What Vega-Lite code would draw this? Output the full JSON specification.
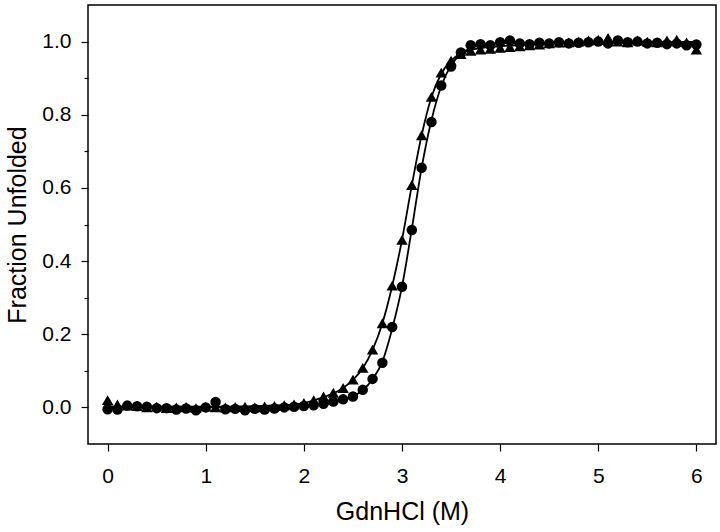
{
  "$schema": "https://vega.github.io/schema/vega-lite/v6.json",
  "width": 628,
  "height": 439,
  "autosize": {"type": "none"},
  "padding": {"left": 88, "top": 5, "right": 4, "bottom": 88},
  "background": "white",
  "config": {
    "view": {"stroke": "black", "strokeWidth": 1.5},
    "font": "Liberation Sans",
    "axis": {
      "domain": false,
      "grid": false,
      "tickColor": "black",
      "tickWidth": 1.2,
      "labelColor": "black",
      "labelFontSize": 21,
      "labelFont": "Liberation Sans",
      "titleFont": "Liberation Sans",
      "titleFontSize": 25,
      "titleFontWeight": "normal",
      "titleColor": "black"
    }
  },
  "datasets": {
    "pts": [
      {"x": 0.0, "y": -0.005, "s": "circle"}, {"x": 0.1, "y": -0.006, "s": "circle"}, {"x": 0.2, "y": 0.005, "s": "circle"}, {"x": 0.3, "y": 0.003, "s": "circle"}, {"x": 0.4, "y": 0.002, "s": "circle"}, {"x": 0.5, "y": -0.002, "s": "circle"}, {"x": 0.6, "y": -0.002, "s": "circle"}, {"x": 0.7, "y": -0.006, "s": "circle"}, {"x": 0.8, "y": -0.003, "s": "circle"}, {"x": 0.9, "y": -0.008, "s": "circle"}, {"x": 1.0, "y": 0.0, "s": "circle"}, {"x": 1.1, "y": 0.015, "s": "circle"}, {"x": 1.2, "y": -0.005, "s": "circle"}, {"x": 1.3, "y": -0.004, "s": "circle"}, {"x": 1.4, "y": -0.008, "s": "circle"}, {"x": 1.5, "y": -0.004, "s": "circle"}, {"x": 1.6, "y": -0.006, "s": "circle"}, {"x": 1.7, "y": -0.003, "s": "circle"}, {"x": 1.8, "y": 0.0, "s": "circle"}, {"x": 1.9, "y": 0.002, "s": "circle"}, {"x": 2.0, "y": 0.004, "s": "circle"}, {"x": 2.1, "y": 0.006, "s": "circle"}, {"x": 2.2, "y": 0.01, "s": "circle"}, {"x": 2.3, "y": 0.016, "s": "circle"}, {"x": 2.4, "y": 0.022, "s": "circle"}, {"x": 2.5, "y": 0.03, "s": "circle"}, {"x": 2.6, "y": 0.048, "s": "circle"}, {"x": 2.7, "y": 0.078, "s": "circle"}, {"x": 2.8, "y": 0.122, "s": "circle"}, {"x": 2.9, "y": 0.22, "s": "circle"}, {"x": 3.0, "y": 0.33, "s": "circle"}, {"x": 3.1, "y": 0.485, "s": "circle"}, {"x": 3.2, "y": 0.655, "s": "circle"}, {"x": 3.3, "y": 0.78, "s": "circle"}, {"x": 3.4, "y": 0.88, "s": "circle"}, {"x": 3.5, "y": 0.932, "s": "circle"}, {"x": 3.6, "y": 0.97, "s": "circle"}, {"x": 3.7, "y": 0.99, "s": "circle"}, {"x": 3.8, "y": 0.993, "s": "circle"}, {"x": 3.9, "y": 0.99, "s": "circle"}, {"x": 4.0, "y": 0.998, "s": "circle"}, {"x": 4.1, "y": 1.003, "s": "circle"}, {"x": 4.2, "y": 0.995, "s": "circle"}, {"x": 4.3, "y": 0.993, "s": "circle"}, {"x": 4.4, "y": 0.997, "s": "circle"}, {"x": 4.5, "y": 0.995, "s": "circle"}, {"x": 4.6, "y": 0.998, "s": "circle"}, {"x": 4.7, "y": 0.995, "s": "circle"}, {"x": 4.8, "y": 0.997, "s": "circle"}, {"x": 4.9, "y": 0.998, "s": "circle"}, {"x": 5.0, "y": 1.0, "s": "circle"}, {"x": 5.1, "y": 0.995, "s": "circle"}, {"x": 5.2, "y": 1.003, "s": "circle"}, {"x": 5.3, "y": 0.998, "s": "circle"}, {"x": 5.4, "y": 1.0, "s": "circle"}, {"x": 5.5, "y": 0.995, "s": "circle"}, {"x": 5.6, "y": 0.997, "s": "circle"}, {"x": 5.7, "y": 0.993, "s": "circle"}, {"x": 5.8, "y": 0.995, "s": "circle"}, {"x": 5.9, "y": 0.99, "s": "circle"}, {"x": 6.0, "y": 0.992, "s": "circle"},
      {"x": 0.0, "y": 0.02, "s": "triangle"}, {"x": 0.1, "y": 0.008, "s": "triangle"}, {"x": 0.2, "y": 0.005, "s": "triangle"}, {"x": 0.3, "y": 0.004, "s": "triangle"}, {"x": 0.4, "y": 0.0, "s": "triangle"}, {"x": 0.5, "y": 0.002, "s": "triangle"}, {"x": 0.6, "y": -0.002, "s": "triangle"}, {"x": 0.7, "y": 0.0, "s": "triangle"}, {"x": 0.8, "y": 0.001, "s": "triangle"}, {"x": 0.9, "y": -0.002, "s": "triangle"}, {"x": 1.0, "y": 0.002, "s": "triangle"}, {"x": 1.1, "y": 0.0, "s": "triangle"}, {"x": 1.2, "y": 0.0, "s": "triangle"}, {"x": 1.3, "y": 0.001, "s": "triangle"}, {"x": 1.4, "y": 0.002, "s": "triangle"}, {"x": 1.5, "y": 0.0, "s": "triangle"}, {"x": 1.6, "y": 0.003, "s": "triangle"}, {"x": 1.7, "y": 0.004, "s": "triangle"}, {"x": 1.8, "y": 0.006, "s": "triangle"}, {"x": 1.9, "y": 0.008, "s": "triangle"}, {"x": 2.0, "y": 0.012, "s": "triangle"}, {"x": 2.1, "y": 0.02, "s": "triangle"}, {"x": 2.2, "y": 0.03, "s": "triangle"}, {"x": 2.3, "y": 0.04, "s": "triangle"}, {"x": 2.4, "y": 0.053, "s": "triangle"}, {"x": 2.5, "y": 0.076, "s": "triangle"}, {"x": 2.6, "y": 0.108, "s": "triangle"}, {"x": 2.7, "y": 0.158, "s": "triangle"}, {"x": 2.8, "y": 0.23, "s": "triangle"}, {"x": 2.9, "y": 0.333, "s": "triangle"}, {"x": 3.0, "y": 0.458, "s": "triangle"}, {"x": 3.1, "y": 0.608, "s": "triangle"}, {"x": 3.2, "y": 0.744, "s": "triangle"}, {"x": 3.3, "y": 0.849, "s": "triangle"}, {"x": 3.4, "y": 0.915, "s": "triangle"}, {"x": 3.5, "y": 0.948, "s": "triangle"}, {"x": 3.6, "y": 0.966, "s": "triangle"}, {"x": 3.7, "y": 0.975, "s": "triangle"}, {"x": 3.8, "y": 0.978, "s": "triangle"}, {"x": 3.9, "y": 0.98, "s": "triangle"}, {"x": 4.0, "y": 0.983, "s": "triangle"}, {"x": 4.1, "y": 0.985, "s": "triangle"}, {"x": 4.2, "y": 0.987, "s": "triangle"}, {"x": 4.3, "y": 0.99, "s": "triangle"}, {"x": 4.4, "y": 0.992, "s": "triangle"}, {"x": 4.5, "y": 0.995, "s": "triangle"}, {"x": 4.6, "y": 0.997, "s": "triangle"}, {"x": 4.7, "y": 0.998, "s": "triangle"}, {"x": 4.8, "y": 1.0, "s": "triangle"}, {"x": 4.9, "y": 1.003, "s": "triangle"}, {"x": 5.0, "y": 1.005, "s": "triangle"}, {"x": 5.1, "y": 1.01, "s": "triangle"}, {"x": 5.2, "y": 1.0, "s": "triangle"}, {"x": 5.3, "y": 0.998, "s": "triangle"}, {"x": 5.4, "y": 1.003, "s": "triangle"}, {"x": 5.5, "y": 1.0, "s": "triangle"}, {"x": 5.6, "y": 0.998, "s": "triangle"}, {"x": 5.7, "y": 1.003, "s": "triangle"}, {"x": 5.8, "y": 1.005, "s": "triangle"}, {"x": 5.9, "y": 0.998, "s": "triangle"}, {"x": 6.0, "y": 0.978, "s": "triangle"}
    ],
    "fit": [
      {"x": 0.0, "y": 0.0, "s": "circle"}, {"x": 1.0, "y": 0.0, "s": "circle"}, {"x": 2.0, "y": 0.003, "s": "circle"}, {"x": 2.2, "y": 0.008, "s": "circle"}, {"x": 2.4, "y": 0.02, "s": "circle"}, {"x": 2.5, "y": 0.03, "s": "circle"}, {"x": 2.6, "y": 0.047, "s": "circle"}, {"x": 2.7, "y": 0.077, "s": "circle"}, {"x": 2.8, "y": 0.125, "s": "circle"}, {"x": 2.9, "y": 0.215, "s": "circle"}, {"x": 3.0, "y": 0.33, "s": "circle"}, {"x": 3.1, "y": 0.488, "s": "circle"}, {"x": 3.2, "y": 0.655, "s": "circle"}, {"x": 3.3, "y": 0.785, "s": "circle"}, {"x": 3.4, "y": 0.878, "s": "circle"}, {"x": 3.5, "y": 0.935, "s": "circle"}, {"x": 3.6, "y": 0.966, "s": "circle"}, {"x": 3.7, "y": 0.982, "s": "circle"}, {"x": 3.8, "y": 0.99, "s": "circle"}, {"x": 4.0, "y": 0.996, "s": "circle"}, {"x": 5.0, "y": 0.997, "s": "circle"}, {"x": 6.0, "y": 0.995, "s": "circle"},
      {"x": 0.0, "y": 0.003, "s": "triangle"}, {"x": 1.0, "y": 0.002, "s": "triangle"}, {"x": 1.8, "y": 0.006, "s": "triangle"}, {"x": 2.0, "y": 0.012, "s": "triangle"}, {"x": 2.2, "y": 0.028, "s": "triangle"}, {"x": 2.4, "y": 0.053, "s": "triangle"}, {"x": 2.5, "y": 0.075, "s": "triangle"}, {"x": 2.6, "y": 0.107, "s": "triangle"}, {"x": 2.7, "y": 0.157, "s": "triangle"}, {"x": 2.8, "y": 0.23, "s": "triangle"}, {"x": 2.9, "y": 0.332, "s": "triangle"}, {"x": 3.0, "y": 0.458, "s": "triangle"}, {"x": 3.1, "y": 0.607, "s": "triangle"}, {"x": 3.2, "y": 0.744, "s": "triangle"}, {"x": 3.3, "y": 0.848, "s": "triangle"}, {"x": 3.4, "y": 0.912, "s": "triangle"}, {"x": 3.5, "y": 0.948, "s": "triangle"}, {"x": 3.6, "y": 0.967, "s": "triangle"}, {"x": 3.7, "y": 0.977, "s": "triangle"}, {"x": 3.8, "y": 0.982, "s": "triangle"}, {"x": 4.0, "y": 0.987, "s": "triangle"}, {"x": 5.0, "y": 0.998, "s": "triangle"}, {"x": 6.0, "y": 0.999, "s": "triangle"}
    ]
  },
  "encoding": {
    "x": {
      "field": "x", "type": "quantitative",
      "scale": {"domain": [-0.2, 6.2], "nice": false, "zero": false},
      "axis": {
        "title": "GdnHCl (M)",
        "values": [0, 0.5, 1, 1.5, 2, 2.5, 3, 3.5, 4, 4.5, 5, 5.5, 6],
        "format": "d",
        "labelExpr": "datum.value % 1 === 0 ? datum.label : ''",
        "tickSize": {"condition": {"test": "datum.value % 1 !== 0", "value": 4}, "value": 7},
        "labelPadding": 14,
        "titlePadding": 13,
        "labelFlush": false,
        "labelOverlap": false
      }
    },
    "y": {
      "field": "y", "type": "quantitative",
      "scale": {"domain": [-0.1, 1.1], "nice": false, "zero": false},
      "axis": {
        "title": "Fraction Unfolded",
        "values": [0, 0.1, 0.2, 0.3, 0.4, 0.5, 0.6, 0.7, 0.8, 0.9, 1.0],
        "format": ".1f",
        "labelExpr": "round(datum.value * 10) % 2 === 0 ? datum.label : ''",
        "tickSize": {"condition": {"test": "round(datum.value * 10) % 2 === 1", "value": 4}, "value": 7},
        "labelPadding": 10,
        "titlePadding": 11,
        "labelFlush": false,
        "labelOverlap": false
      }
    }
  },
  "layer": [
    {
      "data": {"name": "fit"},
      "mark": {"type": "line", "color": "black", "strokeWidth": 1.8, "interpolate": "monotone"},
      "encoding": {"detail": {"field": "s"}}
    },
    {
      "data": {"name": "pts"},
      "mark": {"type": "point", "filled": true, "opacity": 1, "color": "black", "strokeWidth": 0},
      "encoding": {
        "shape": {
          "field": "s", "type": "nominal",
          "scale": {"domain": ["circle", "triangle"], "range": ["circle", "triangle-up"]},
          "legend": null
        },
        "size": {
          "field": "s", "type": "nominal",
          "scale": {"domain": ["circle", "triangle"], "range": [110, 130]},
          "legend": null
        }
      }
    }
  ]
}
